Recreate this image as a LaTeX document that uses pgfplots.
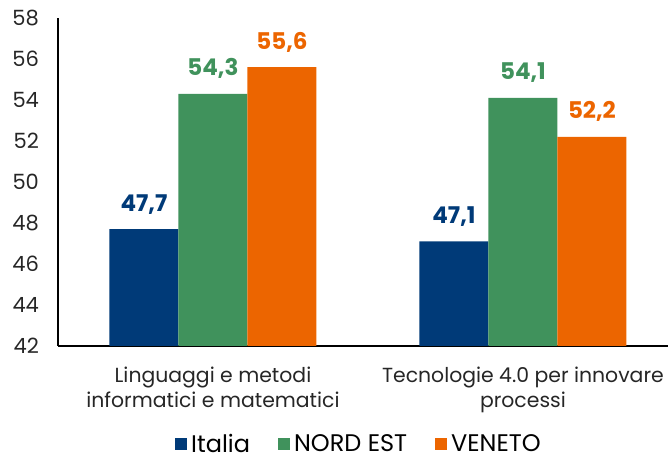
\documentclass[border=0pt]{standalone}
\usepackage{pgfplots}
\pgfplotsset{compat=1.18}
\usepackage{fontspec}
\setmainfont{Poppins}
\definecolor{cIt}{HTML}{003A78}
\definecolor{cNe}{HTML}{40925C}
\definecolor{cVe}{HTML}{EC6500}
\begin{document}
\begin{tikzpicture}
\path[use as bounding box] (-29pt,-56pt) rectangle (306pt,173pt);
\begin{axis}[
  at={(0,0)}, anchor=south west,
  width=305pt, height=164pt, scale only axis,
  ybar=0pt, bar width=34.5pt, 
  xmin=-0.5, xmax=1.468,
  ymin=42, ymax=58,
  ytick={42,44,...,58},
  xtick={0,1},
  xticklabels={{Linguaggi e metodi\\informatici e matematici},{Tecnologie 4.0 per innovare\\processi}},
  x tick label style={align=center, font=\fontsize{10.2}{12.5}\selectfont, text=black!85, yshift=-7pt},
  y tick label style={font=\fontsize{10.5}{12}\selectfont, text=black!85, xshift=-6pt},
  /pgf/number format/assume math mode=true,
  major tick length=0pt,
  axis x line*=bottom, axis y line*=left,
  axis line style={black, line width=0.8pt, -},
  nodes near coords,
  nodes near coords style={font=\bfseries\fontsize{11.5}{13}\selectfont, anchor=south, yshift=4pt,
    /pgf/number format/fixed, /pgf/number format/fixed zerofill, /pgf/number format/precision=1, /pgf/number format/use comma},
  legend columns=3,
  legend style={draw=none, at={(0.495,-0.3)}, anchor=center, font=\fontsize{12}{13}\selectfont,
    /tikz/every even column/.append style={column sep=12pt}},
  legend image code/.code={\fill[#1] (0pt,-3pt) rectangle (6pt,3pt);},
]
\addplot[fill=cIt, draw=none, nodes near coords style={text=cIt}] coordinates {(0,47.7) (1,47.1)};
\addplot[fill=cNe, draw=none, nodes near coords style={text=cNe}] coordinates {(0,54.3) (1,54.1)};
\addplot[fill=cVe, draw=none, nodes near coords style={text=cVe}] coordinates {(0,55.6) (1,52.2)};
\legend{Italia, NORD EST, VENETO}
\end{axis}
\end{tikzpicture}
\end{document}
